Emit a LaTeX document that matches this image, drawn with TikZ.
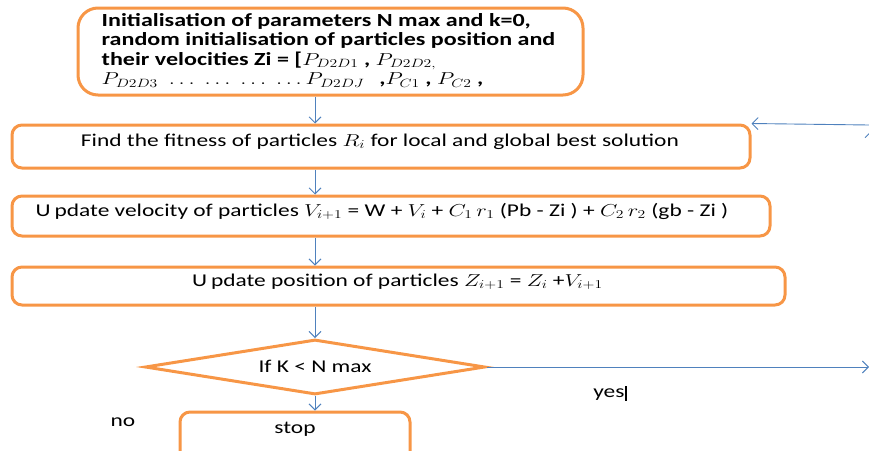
\documentclass[tikz,border=0pt]{standalone}
\usepackage{fontspec}
\setmainfont{Carlito}
\usepackage{tikz}
\usetikzlibrary{arrows.meta,shapes.geometric,calc}
\definecolor{pumpkin}{HTML}{F79646}
\definecolor{steel}{HTML}{4F81BD}
\newcommand{\wide}[1]{\scalebox{1.3}[1]{#1}}

\begin{document}
\begin{tikzpicture}[x=1pt, y=-1pt,
    box/.style={draw=pumpkin, line width=3pt, rounded corners=10pt, fill=white, inner sep=0pt},
    flow/.style={-{Straight Barb[length=6pt, width=12pt]}, line width=0.9pt, steel},
    txt/.style={font=\fontsize{18}{21}\selectfont, inner sep=0pt}]
    % frame of the page
    \useasboundingbox (0,0) rectangle (869,450);

    % Initialisation box
    \node[box, rounded corners=20pt, minimum width=505pt, minimum height=87pt] (init) at (330.5,51.5) {};
    \node[txt, anchor=west, font=\fontsize{18.5}{19.5}\selectfont\bfseries] (inittxt) at ($(init.west)+(25,0)$) {\wide{%
        \begin{tabular}{@{}l@{}}
        Initialisation  of parameters N max and k=0,\\
        random initialisation  of particles position and\\
        their velocities Zi = [$P_{D2D1}$ , $P_{D2D2,}$\\
        $P_{D2D3}$ \ $\dots\;\dots\;\dots\;\dots P_{D2DJ}$ \ \,,$P_{C1}$ , $P_{C2}$ ,
        \end{tabular}}};

    % Fitness box
    \node[box, minimum width=738pt, minimum height=43pt] (fit) at (381,146.5) {};
    \node[txt] (fittxt) at ($(fit.north)+(-1,18)$) {\wide{Find the fitness of particles $R_i$ for local and global best solution}};

    % Velocity box
    \node[box, minimum width=758pt, minimum height=40pt] (vel) at (391,216) {};
    \node[txt, anchor=west] (veltxt) at ($(vel.north west)+(25,17)$) {\wide{U\,pdate velocity of particles $V_{i+1}$ = W + $V_i$ + $C_1\,r_1$ (Pb - Zi ) + $C_2\,r_2$ (gb - Zi )}};

    % Position box
    \node[box, minimum width=773pt, minimum height=38pt] (pos) at (398.5,286) {};
    \node[txt] (postxt) at ($(pos.north)+(-1,16)$) {\wide{U\,pdate position of particles $Z_{i+1}$ = $Z_i$ +$V_{i+1}$}};

    % Decision
    \node[draw=pumpkin, line width=3pt, diamond, aspect=6, inner sep=0pt, minimum width=340pt, minimum height=55pt] (dia) at (315,367) {};
    \node[txt] (diatxt) at ($(dia.center)+(0,-1)$) {\wide{If K < N max}};

    % Stop box
    \node[box, minimum width=230pt, minimum height=50pt] (stop) at (295,437) {};
    \node[txt] (stoptxt) at ($(stop.north)+(0,19)$) {\wide{stop}};

    % side labels
    \node[txt] (yes) at (610,393) {\wide{yes\rule[-3pt]{1.6pt}{15pt}}};
    \node[txt] (no) at (123,422) {\wide{no}};

    % loop back end points
    \coordinate (yesend) at (869,367);
    \coordinate (upend) at (871,131);
    \coordinate (upstart) at (871,367);
    \coordinate (backstart) at (869,125);

    % Connectors
    \draw[flow] (init.south -| dia.north) -- (fit.north -| dia.north);
    \draw[flow] (fit.south -| dia.north) -- (vel.north -| dia.north);
    \draw[flow] (vel.south -| dia.north) -- (pos.north -| dia.north);
    \draw[flow] (pos.south -| dia.north) -- (dia.north);
    \draw[flow] (dia.south) -- (stop.north -| dia.south);
    \draw[flow] (dia.east) -- (yesend);
    \draw[flow] (upstart) -- (upend);
    \draw[flow] (backstart) -- (fit.north east);
\end{tikzpicture}
\end{document}
